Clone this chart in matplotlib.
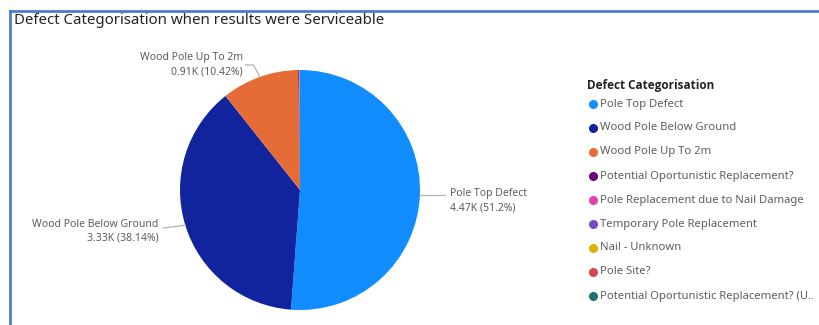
import matplotlib
matplotlib.use("Agg")
import matplotlib.pyplot as plt
from matplotlib.lines import Line2D
import numpy as np

# data
categories = [
    "Pole Top Defect",
    "Wood Pole Below Ground",
    "Wood Pole Up To 2m",
    "Potential Oportunistic Replacement?",
    "Pole Replacement due to Nail Damage",
    "Temporary Pole Replacement",
    "Nail - Unknown",
    "Pole Site?",
    "Potential Oportunistic Replacement? (U..",
]
values = [4470, 3330, 910, 10, 4, 3, 2, 1, 1]
value_labels = ["4.47K (51.2%)", "3.33K (38.14%)", "0.91K (10.42%)"]
colors = ["#118DFF", "#12239E", "#E66C37", "#6B007B", "#E044A7",
          "#744EC2", "#D9B300", "#D64550", "#197278"]

TXT = "#605E5C"
W, H = 820, 325
plt.rcParams["font.family"] = ["Noto Sans", "DejaVu Sans"]

fig = plt.figure(figsize=(W / 100, H / 100), dpi=100)

# frame lines (left and top)
fig.add_artist(Line2D([10 / W, 10 / W], [0, 1 - 11 / H], color="#4A7BD0", lw=2))
fig.add_artist(Line2D([10 / W, 1], [1 - 11 / H, 1 - 11 / H], color="#4A7BD0", lw=2))

fig.text(14 / W, 1 - 21 / H, "Defect Categorisation when results were Serviceable",
         fontsize=10.8, color="#252423", va="center", ha="left")

# pie: centre (300,190), radius 120 px
cx, cy, r = 300, 190, 120
ax = fig.add_axes([(cx - r) / W, 1 - (cy + r) / H, 2 * r / W, 2 * r / H])
wedges, _ = ax.pie(values, colors=colors, startangle=90, counterclock=False,
                   wedgeprops=dict(linewidth=0))
ax.set_xlim(-1, 1)
ax.set_ylim(-1, 1)
ax.set_aspect("auto")


def px(x, y):
    return x / W, 1 - y / H


# data labels with leader lines
for i, w in enumerate(wedges[:3]):
    mid = np.deg2rad((w.theta1 + w.theta2) / 2)
    sx, sy = cx + r * np.cos(mid), cy - r * np.sin(mid)
    if i == 0:
        pts = [(sx, sy), (sx + 25, sy)]
        tx, ty, ha = sx + 30, sy + 6, "left"
    elif i == 1:
        pts = [(sx, sy), (sx - 22, sy + 3)]
        tx, ty, ha = sx - 27, sy + 6, "right"
    else:
        pts = [(sx, sy), (sx - 6, sy - 12), (sx - 14, sy - 12)]
        tx, ty, ha = sx - 17, sy - 12, "right"
    xs, ys = zip(*[px(a, b) for a, b in pts])
    fig.add_artist(Line2D(xs, ys, color="#B3B0AD", lw=0.9))
    fig.text(*px(tx, ty - 7), categories[i], fontsize=7.5, color=TXT,
             ha=ha, va="center")
    fig.text(*px(tx, ty + 7), value_labels[i], fontsize=7.5, color=TXT,
             ha=ha, va="center")

# legend
fig.text(*px(587, 85), "Defect Categorisation", fontsize=8.5, fontweight="bold",
         family=["Open Sans", "DejaVu Sans"],
         color="#252423", ha="left", va="center")
for i, (name, c) in enumerate(zip(categories, colors)):
    y = 104 + 24 * i
    fig.add_artist(Line2D([593 / W], [1 - y / H], marker="o", markersize=5.5,
                          markerfacecolor=c, markeredgecolor=c, linestyle=""))
    fig.text(*px(600, y), name, fontsize=8.1, color=TXT, ha="left", va="center")

fig.savefig("out.png", dpi=100)
